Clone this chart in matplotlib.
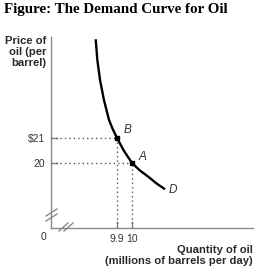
import matplotlib
matplotlib.use("Agg")
import matplotlib.pyplot as plt

# demand curve (quantity, price)
curve_q = [9.758, 9.769, 9.787, 9.813, 9.847, 9.870, 9.900, 9.947, 10.000, 10.053, 10.109, 10.164, 10.220]
curve_p = [24.95, 24.12, 23.32, 22.52, 21.72, 21.38, 21.00, 20.48, 20.00, 19.70, 19.45, 19.18, 18.95]

point_names = ["B", "A"]
point_q = [9.9, 10.0]
point_p = [21.0, 20.0]

xtick_vals = [9.9, 10.0]
xtick_labels = ["9.9", "10"]
ytick_vals = [20.0, 21.0]
ytick_labels = ["20", "$21"]

W, H = 265, 277
fig = plt.figure(figsize=(W / 100, H / 100), dpi=100)
plt.rcParams['font.family'] = ['Liberation Sans', 'DejaVu Sans']

# axes box in pixels: x 51..253, y 37..228
ax = fig.add_axes([51 / W, 1 - 228 / H, 202 / W, 191 / H])
xmin, xmax = 9.46, 10.807
ymin, ymax = 17.4, 25.04
ax.set_xlim(xmin, xmax)
ax.set_ylim(ymin, ymax)

axis_col = "#8a8a8a"
text_col = "#333333"
for s in ["top", "right"]:
    ax.spines[s].set_visible(False)
for s in ["left", "bottom"]:
    ax.spines[s].set_color(axis_col)
    ax.spines[s].set_linewidth(1.0)

ax.set_xticks(xtick_vals)
ax.set_xticklabels(xtick_labels)
ax.set_yticks(ytick_vals)
ax.set_yticklabels(ytick_labels)
ax.tick_params(direction="in", length=5, width=1, color=axis_col,
               labelsize=7.5, labelcolor=text_col, pad=4)

# dotted guides from the axes to each point
for q, p in zip(point_q, point_p):
    ax.plot([xmin, q], [p, p], color="#555555", lw=1, ls=(0, (1, 2.2)))
    ax.plot([q, q], [ymin, p], color="#555555", lw=1, ls=(0, (1, 2.2)))

ax.plot(curve_q, curve_p, color="black", lw=1.7, solid_capstyle="butt")
ax.plot(point_q, point_p, "s", color="black", ms=3.2)

label_offsets = [(5, 5.5), (4.5, 4)]
for name, q, p, off in zip(point_names, point_q, point_p, label_offsets):
    ax.annotate(name, (q, p), xytext=off, textcoords="offset points",
                fontsize=8.5, style="italic", color=text_col, va="center")
ax.annotate("D", (curve_q[-1], curve_p[-1]), xytext=(3, -0.5), textcoords="offset points",
            fontsize=8.5, style="italic", color=text_col, va="center")

# axis break marks (pixel positions converted to axes fraction)
def px(x, y):
    return (x - 51) / 202, (228 - y) / 191

for dy in (0, 5):
    (x0, y0), (x1, y1) = px(46, 216 + dy), px(57, 209 + dy)
    ax.plot([x0, x1], [y0, y1], color=axis_col, lw=1, transform=ax.transAxes, clip_on=False)
for dx in (0, 5):
    (x0, y0), (x1, y1) = px(59 + dx, 231), px(68 + dx, 223)
    ax.plot([x0, x1], [y0, y1], color=axis_col, lw=1, transform=ax.transAxes, clip_on=False)

fig.text(43.3 / W, 1 - 237 / H, "0", fontsize=7.5, color=text_col, ha="center", va="center")

fig.text(4 / W, 1 - 3 / H, "Figure: The Demand Curve for Oil", family="Liberation Serif",
         weight="bold", fontsize=10.8, ha="left", va="top")
fig.text(46.5 / W, 1 - 36 / H, "Price of\noil (per\nbarrel)", fontsize=8.1, color="#2a2a2a",
         weight="bold", ha="right", va="top", linespacing=1.1)
fig.text(253 / W, 1 - 245 / H, "Quantity of oil\n(millions of barrels per day)", fontsize=8.1,
         color="#2a2a2a", weight="bold", ha="right", va="top", multialignment="right",
         linespacing=1.1)

fig.savefig("out.png", dpi=100)
